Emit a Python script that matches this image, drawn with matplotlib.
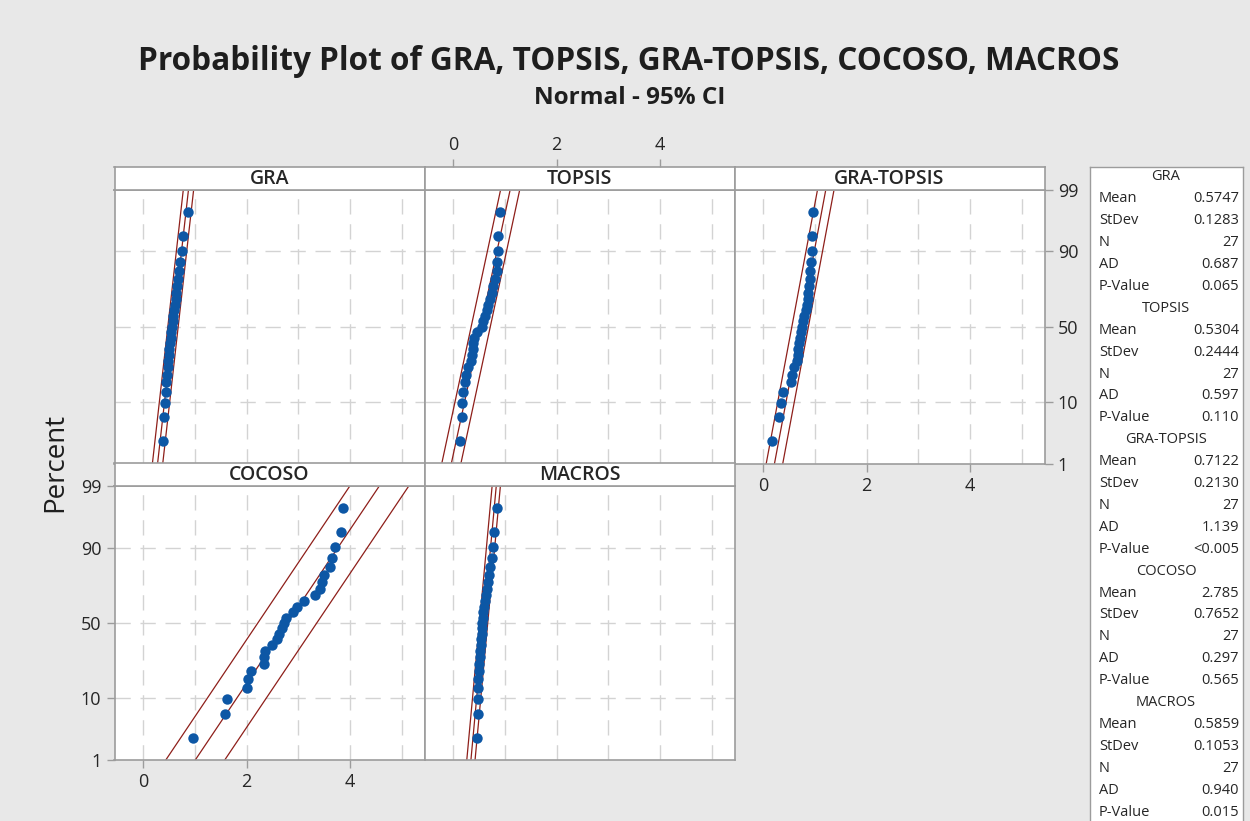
import numpy as np
import matplotlib
matplotlib.use("Agg")
import matplotlib.pyplot as plt
from statistics import NormalDist

# data (sorted values, 27 per method)
names = ["GRA", "TOPSIS", "GRA-TOPSIS", "COCOSO", "MACROS"]
gra = [0.385, 0.405, 0.425, 0.430, 0.440, 0.455, 0.470, 0.480, 0.495, 0.505, 0.520, 0.530, 0.545, 0.555,
       0.565, 0.580, 0.595, 0.610, 0.625, 0.640, 0.655, 0.675, 0.690, 0.715, 0.740, 0.775, 0.860]
topsis = [0.129, 0.161, 0.161, 0.194, 0.226, 0.245, 0.290, 0.335, 0.355, 0.374, 0.387, 0.406, 0.450, 0.548,
          0.580, 0.613, 0.645, 0.677, 0.710, 0.742, 0.774, 0.806, 0.839, 0.852, 0.871, 0.871, 0.903]
gra_topsis = [0.161, 0.303, 0.342, 0.387, 0.535, 0.561, 0.600, 0.645, 0.665, 0.677, 0.690, 0.710, 0.729, 0.742,
              0.761, 0.794, 0.819, 0.839, 0.858, 0.871, 0.884, 0.903, 0.903, 0.923, 0.935, 0.948, 0.955]
cocoso = [0.955, 1.58, 1.61, 2.00, 2.03, 2.08, 2.34, 2.34, 2.35, 2.48, 2.58, 2.63, 2.68, 2.72,
          2.76, 2.90, 2.98, 3.10, 3.33, 3.41, 3.45, 3.50, 3.61, 3.65, 3.71, 3.83, 3.87]
macros = [0.452, 0.472, 0.472, 0.485, 0.485, 0.497, 0.497, 0.517, 0.517, 0.530, 0.536, 0.549, 0.549, 0.562,
          0.581, 0.581, 0.601, 0.614, 0.626, 0.646, 0.678, 0.691, 0.710, 0.743, 0.775, 0.794, 0.839]
series = [gra, topsis, gra_topsis, cocoso, macros]

means = [0.5747, 0.5304, 0.7122, 2.785, 0.5859]
stdevs = [0.1283, 0.2444, 0.2130, 0.7652, 0.1053]
ns = [27, 27, 27, 27, 27]
ads = ["0.687", "0.597", "1.139", "0.297", "0.940"]
pvalues = ["0.065", "0.110", "<0.005", "0.565", "0.015"]
ci_half = [0.10, 0.185, 0.16, 0.57, 0.08]   # half width of the CI bands as drawn

pct_ticks = [1, 10, 50, 90, 99]
x_ticks = [0, 2, 4]

W, H = 1250, 821
BG = "#e8e8e8"
EDGE = "#9c9c9c"
DOT = "#0d57a5"
RED = "#8e1f1a"
TXT = "#262626"

plt.rcParams["font.family"] = ["Open Sans", "DejaVu Sans"]

nd = NormalDist()
to_z = np.vectorize(lambda p: nd.inv_cdf(min(max(p, 1e-6), 100 - 1e-6) / 100.0), otypes=[float])
to_pct = np.vectorize(lambda z: nd.cdf(z) * 100.0, otypes=[float])


def rect(x0, y0, x1, y1):
    return [x0 / W, 1 - y1 / H, (x1 - x0) / W, (y1 - y0) / H]


fig = plt.figure(figsize=(W / 100, H / 100), dpi=100, facecolor=BG)

fig.text(629 / W, 1 - 62 / H, "Probability Plot of GRA, TOPSIS, GRA-TOPSIS, COCOSO, MACROS",
         ha="center", va="center", fontsize=22.7, fontweight="bold", color="#1e1e1e")
fig.text(630 / W, 1 - 98 / H, "Normal - 95% CI", ha="center", va="center",
         fontsize=17.5, fontweight="bold", color="#1e1e1e")
fig.text(55 / W, 1 - 462 / H, "Percent", rotation=90, ha="center", va="center",
         fontsize=20, color="#1e1e1e")

col_x = [114.5, 424.5, 734.5]
rows = [(167, 190, 463.5), (463.5, 486, 760)]   # strip top, plot top, plot bottom
slots = [(0, 0), (0, 1), (0, 2), (1, 0), (1, 1)]
xmin = -0.557
xmax = xmin + 310 / 51.7

for i, name in enumerate(names):
    r, c = slots[i]
    st, pt, pb = rows[r]
    x0 = col_x[c]
    ax = fig.add_axes(rect(x0, pt, x0 + 310, pb))
    strip = fig.add_axes(rect(x0, st, x0 + 310, pt))

    ax.set_yscale("function", functions=(to_z, to_pct))
    ax.set_ylim(1, 99)
    ax.set_xlim(xmin, xmax)
    ax.set_facecolor("white")

    for gx in range(0, 6):
        ax.axvline(gx, color="#d3d3d3", lw=1, ls=(0, (11, 7)), zorder=0)
    for gp in [10, 50, 90]:
        ax.axhline(gp, color="#d3d3d3", lw=1, ls=(0, (11, 7)), zorder=0)

    n = ns[i]
    pos = (np.arange(1, n + 1) - 0.3) / (n + 0.4) * 100
    line_p = np.linspace(0.3, 99.7, 300)
    fit = means[i] + stdevs[i] * to_z(line_p)
    ax.plot(fit, line_p, color=RED, lw=0.9, zorder=2)
    ax.plot(fit - ci_half[i], line_p, color=RED, lw=0.9, zorder=2)
    ax.plot(fit + ci_half[i], line_p, color=RED, lw=0.9, zorder=2)
    ax.plot(series[i], pos, "o", color=DOT, ms=7.5, mew=0, zorder=3)

    for sp in ax.spines.values():
        sp.set_color(EDGE)
        sp.set_linewidth(1.2)
    ax.tick_params(colors=EDGE, labelcolor=TXT, labelsize=13, length=6, width=1)
    ax.set_xticks(x_ticks)
    ax.set_yticks(pct_ticks)
    ax.set_yticklabels([str(p) for p in pct_ticks])
    ax.minorticks_off()

    # which sides carry ticks, as in the original layout
    show_left = i == 3
    show_right = i == 2
    show_bottom = i in (2, 3)
    ax.tick_params(axis="y", left=show_left, labelleft=show_left,
                   right=show_right, labelright=show_right)
    ax.tick_params(axis="x", bottom=show_bottom, labelbottom=show_bottom, top=False, labeltop=False)

    strip.set_xlim(xmin, xmax)
    strip.set_facecolor("white")
    strip.set_yticks([])
    for sp in strip.spines.values():
        sp.set_color(EDGE)
        sp.set_linewidth(1.2)
    if i == 1:
        strip.set_xticks(x_ticks)
        strip.tick_params(axis="x", top=True, labeltop=True, bottom=False, labelbottom=False,
                          colors=EDGE, labelcolor=TXT, labelsize=13, length=6, width=1)
    else:
        strip.set_xticks([])
    strip.text(0.5, 0.5, name, transform=strip.transAxes, ha="center", va="center",
               fontsize=14, fontweight="semibold", color=TXT)

# statistics box on the right
leg = fig.add_axes(rect(1090, 167, 1243, 840))
leg.set_xlim(1090, 1243)
leg.set_ylim(840, 167)
leg.set_facecolor("white")
leg.set_xticks([])
leg.set_yticks([])
for sp in leg.spines.values():
    sp.set_color(EDGE)
    sp.set_linewidth(1.0)

row_h = 21.9
y = 177
for i, name in enumerate(names):
    leg.text(1166, y, name, ha="center", va="center", fontsize=10.5, color=TXT)
    y += row_h
    entries = [("Mean", f"{means[i]:.4f}" if means[i] < 1 else f"{means[i]:.3f}"),
               ("StDev", f"{stdevs[i]:.4f}"),
               ("N", str(ns[i])),
               ("AD", ads[i]),
               ("P-Value", pvalues[i])]
    for lab, val in entries:
        leg.text(1099, y, lab, ha="left", va="center", fontsize=10.5, color=TXT)
        leg.text(1239, y, val, ha="right", va="center", fontsize=10.5, color=TXT)
        y += row_h

fig.savefig("out.png", dpi=100, facecolor=BG)
